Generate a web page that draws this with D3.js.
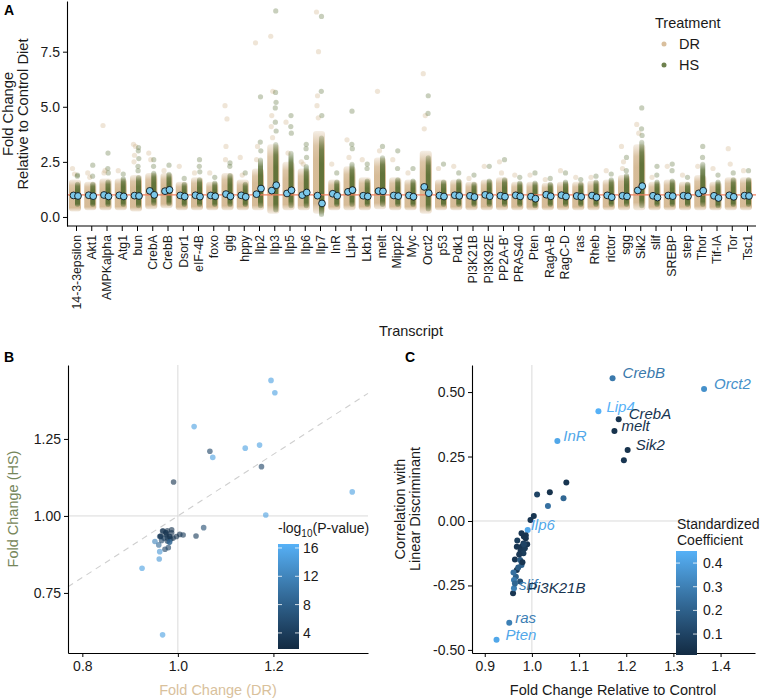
<!DOCTYPE html>
<html><head><meta charset="utf-8">
<script src="https://cdn.jsdelivr.net/npm/d3@7"></script>
<style>
body{margin:0;background:#fff}
text{font-family:"Liberation Sans",Arimo,Arial,Helvetica,sans-serif}
</style>
</head><body>
<svg id="chart" width="762" height="700"></svg>
<script>
// ---------------- DATA ----------------
const transcripts = ["14-3-3epsilon","Akt1","AMPKalpha","Atg1","bun","CrebA","CrebB","Dsor1","eIF-4B","foxo","gig","hppy","Ilp2","Ilp3","Ilp5","Ilp6","Ilp7","InR","Lip4","Lkb1","melt","Mipp2","Myc","Orct2","p53","Pdk1","PI3K21B","PI3K92E","PP2A-B'","PRAS40","Pten","RagA-B","RagC-D","ras","Rheb","rictor","sgg","Sik2","slif","SREBP","step","Thor","Tif-IA","Tor","Tsc1"];

// median fold change per transcript (panel A medians, panel B axes, panel C x)
const drFC = [0.978,0.987,0.997,0.982,0.969,1.184,1.171,0.978,0.985,0.976,1.038,0.982,1.034,1.195,1.067,0.991,0.968,1.054,1.141,0.964,1.175,0.975,0.978,1.365,0.971,0.987,0.960,1.004,0.966,0.983,0.925,1.011,0.990,0.952,0.973,0.980,0.962,1.203,0.962,0.975,0.964,1.073,0.961,0.983,0.968];
const hsFC = [0.952,0.945,0.933,0.933,0.951,1.003,1.230,0.928,0.925,0.938,0.935,0.915,1.290,1.440,1.210,1.110,0.614,0.962,1.220,0.933,1.160,0.945,0.919,1.078,0.928,0.955,0.906,0.940,0.920,0.933,0.830,0.938,0.928,0.917,0.892,0.897,0.933,1.400,0.884,0.945,0.935,1.190,0.860,0.915,0.951];

// dense extent of individual-sample fold changes (panel A)
const drLo = [0.25,0.3,0.3,0.3,0.25,0.35,0.4,0.3,0.3,0.3,0.3,0.3,0.3,0.15,0.3,0.3,0.15,0.3,0.3,0.3,0.35,0.3,0.3,0.15,0.3,0.3,0.3,0.3,0.3,0.3,0.3,0.3,0.3,0.3,0.3,0.3,0.3,0.3,0.3,0.3,0.3,0.3,0.3,0.3,0.3];
const drHi = [1.7,1.6,1.75,1.75,1.9,2.0,2.0,1.6,1.8,1.6,2.0,1.7,2.2,3.3,2.5,2.2,3.9,1.7,2.3,1.8,2.7,1.8,1.7,3.0,1.7,1.7,1.6,1.7,1.8,1.6,1.6,1.55,1.6,1.6,1.65,1.7,1.9,3.3,1.6,1.7,1.6,1.9,1.6,1.8,1.8];
const hsLo = [0.45,0.45,0.45,0.45,0.4,0.5,0.5,0.45,0.45,0.45,0.45,0.45,0.4,0.2,0.4,0.4,0.0,0.45,0.45,0.45,0.45,0.45,0.45,0.25,0.45,0.45,0.45,0.45,0.45,0.45,0.4,0.45,0.45,0.45,0.45,0.45,0.45,0.4,0.45,0.45,0.45,0.45,0.4,0.45,0.45];
const hsHi = [1.6,1.6,1.7,1.85,1.9,2.1,2.05,1.6,1.8,1.65,2.0,1.6,2.7,3.4,3.0,2.4,3.7,1.7,2.5,1.75,2.8,1.8,1.75,2.8,1.7,1.75,1.6,1.75,1.8,1.65,1.65,1.6,1.7,1.6,1.7,1.8,2.0,3.5,1.7,1.75,1.6,2.5,1.7,1.8,1.8];
const drOut = [[2.2,1.95],[2.0,1.8],[4.15,2.1,2.0],[2.1],[3.3,3.2,2.8,2.5],[2.9,2.6],[2.1],[2.3],[2.0],[2.0],[5.05,4.45,3.2,2.6],[2.7,1.9],[7.9,3.2,2.6],[8.2,5.7,4.6,4.1,3.6],[4.3,2.9],[2.5,2.4],[9.3,7.5,5.5,5.05,4.5],[2.4],[3.5,2.7],[2.6],[5.7,3.0],[2.6],[2.0],[6.5,4.6,4.0],[2.2],[2.3],[1.75],[2.3],[2.5,2.0],[1.9],[1.9],[1.7],[2.1],[1.8],[1.8],[2.1],[3.2,2.5,2.2],[4.2,3.8],[1.8],[2.3],[1.9],[2.3],[2.2],[3.1,2.4],[2.1]];
const hsOut = [[1.9,1.85],[2.35,1.85],[2.9,2.2,2.0],[1.95],[3.15,3.0,2.65,2.3,2.1],[2.6,2.3],[2.35],[1.75],[2.6,2.3,2.05],[1.8],[2.45,2.3],[2.0],[5.45,3.4,3.0],[9.35,5.65,5.2,4.95,4.3,3.9],[4.6,4.1,3.8],[3.3,3.1,2.7],[9.1,5.7,4.6],[2.0],[4.8,3.3,3.1],[2.4,2.2],[3.2],[3.0,2.2],[2.2],[5.5,4.7],[2.4],[2.0],[1.9],[2.3],[2.6],[1.8],[2.0],[1.75],[2.0],[1.7],[1.85],[1.95],[2.7,2.1],[4.95,4.0,3.7],[2.3,1.9],[2.4,2.1],[1.8],[3.2,2.7],[1.9],[2.0],[2.1]];

// panel B colour: -log10(P-value)
const negLog10P = [3,3,3,4,4,15,15,3,4,3,4,8,15,15,5,3,15,6,15,5,5,3,4,15,4,3,9,3,5,3,15,4,3,12,5,5,5,15,14,3,3,15,14,9,3];
// panel C: correlation with linear discriminant and standardized coefficient
const ldaCorr = [-0.048,-0.067,0.004,-0.087,-0.076,0.395,0.554,-0.100,-0.106,-0.116,0.111,-0.125,0.058,0.236,0.088,-0.035,-0.190,0.310,0.426,-0.149,0.349,-0.151,-0.171,0.512,-0.180,-0.055,-0.280,0.019,-0.216,-0.060,-0.461,0.103,-0.090,-0.395,-0.130,-0.160,-0.229,0.275,-0.261,-0.235,-0.242,0.149,-0.200,-0.090,-0.100];
const stdCoef = [0.05,0.04,0.05,0.06,0.08,0.05,0.28,0.05,0.07,0.06,0.04,0.08,0.25,0.05,0.22,0.42,0.05,0.42,0.45,0.05,0.04,0.18,0.20,0.35,0.19,0.05,0.05,0.05,0.20,0.04,0.42,0.10,0.05,0.30,0.06,0.05,0.28,0.04,0.30,0.15,0.22,0.05,0.25,0.10,0.05];

const labelledC = ["CrebB","Orct2","Lip4","CrebA","melt","InR","Sik2","Ilp6","slif","PI3K21B","ras","Pten"];
const labelTextC = {"PI3K21B":"Pi3K21B"};

const yTicksA = [0, 2.5, 5, 7.5];
const xTicksB = [0.8, 1.0, 1.2], yTicksB = [0.75, 1.00, 1.25];
const xTicksC = [0.9, 1.0, 1.1, 1.2, 1.3, 1.4], yTicksC = [-0.5, -0.25, 0, 0.25, 0.5];
const pTicks = [4, 8, 12, 16], coefTicks = [0.1, 0.2, 0.3, 0.4];

// ---------------- STYLE ----------------
const TAN = "#D2B48C", OLIVE = "#556B2F", MED = "#7CC8EA", REFLINE = "#F08060";
const GRID = "#DADADA", INK = "#1a1a1a";
const labelOffsets = {CrebB:[10,-6],Orct2:[10,-5],Lip4:[8,-5],CrebA:[10,-6],melt:[7,-5],InR:[6,-5],Sik2:[8,-5],Ilp6:[3,-5],slif:[5,-4],PI3K21B:[14,-6],ras:[6,-5],Pten:[9,-5]};
const jit = [-1, 1, 0, -0.5, 0.8, -1.2];

const svg = d3.select("#chart");
const defs = svg.append("defs");

function styleAxis(g, fs) {
  g.attr("font-family", null).attr("font-size", null);
  g.selectAll("text").attr("font-size", fs).attr("fill", INK);
  g.selectAll(".tick line").attr("stroke", "#000");
  g.select(".domain").attr("stroke", "#000").attr("stroke-width", 1.1);
}

function bandGrad(id, color, op) {
  const gr = defs.append("linearGradient").attr("id", id).attr("x1",0).attr("y1",0).attr("x2",0).attr("y2",1);
  [[0,0.22],[0.18,op*0.85],[0.35,op],[0.88,op],[1,0.25]].forEach(([o,a]) =>
    gr.append("stop").attr("offset", o).attr("stop-color", color).attr("stop-opacity", a));
}
bandGrad("gTan", TAN, 0.9);
bandGrad("gOlive", OLIVE, 0.9);

// ---------------- PANEL A ----------------
const xA = d3.scalePoint().domain(transcripts).range([76, 747]);
const yA = d3.scaleLinear().domain([-0.41, 9.8]).range([226, 1]);
const gA = svg.append("g");

gA.append("g").selectAll("rect").data(transcripts).join("rect")
  .attr("x", d => xA(d) - 7).attr("width", 12)
  .attr("y", (d,i) => yA(drHi[i])).attr("height", (d,i) => yA(drLo[i]) - yA(drHi[i]))
  .attr("rx", 3).attr("fill", "url(#gTan)");
transcripts.forEach((t,i) => {
  gA.selectAll(null).data(drOut[i]).join("circle")
    .attr("cx", (v,j) => xA(t) - 2.5 + jit[j % jit.length]).attr("cy", v => yA(v))
    .attr("r", 2.6).attr("fill", TAN).attr("opacity", 0.35);
});
gA.append("g").selectAll("rect").data(transcripts).join("rect")
  .attr("x", d => xA(d) - 1).attr("width", 5)
  .attr("y", (d,i) => yA(hsHi[i])).attr("height", (d,i) => yA(hsLo[i]) - yA(hsHi[i]))
  .attr("rx", 2.5).attr("fill", "url(#gOlive)");
transcripts.forEach((t,i) => {
  gA.selectAll(null).data(hsOut[i]).join("circle")
    .attr("cx", (v,j) => xA(t) + 1.5 + jit[(j+2) % jit.length] * 0.4).attr("cy", v => yA(v))
    .attr("r", 2.6).attr("fill", OLIVE).attr("opacity", 0.32);
});
gA.append("line").attr("x1", 67).attr("x2", 756).attr("y1", yA(1)).attr("y2", yA(1))
  .attr("stroke", REFLINE).attr("stroke-width", 1.2);
gA.append("g").selectAll("circle").data(transcripts).join("circle")
  .attr("cx", d => xA(d) - 2.5).attr("cy", (d,i) => yA(drFC[i])).attr("r", 3.4)
  .attr("fill", MED).attr("stroke", "#000").attr("stroke-width", 0.8);
gA.append("g").selectAll("circle").data(transcripts).join("circle")
  .attr("cx", d => xA(d) + 2).attr("cy", (d,i) => yA(hsFC[i])).attr("r", 3.4)
  .attr("fill", MED).attr("stroke", "#000").attr("stroke-width", 0.8);

const axAy = gA.append("g").attr("transform", "translate(67,0)")
  .call(d3.axisLeft(yA).tickValues(yTicksA).tickFormat(d3.format(".1f")).tickSize(4).tickSizeOuter(0).tickPadding(3));
styleAxis(axAy, 14);
const axAx = gA.append("g").attr("transform", "translate(0,226)")
  .call(d3.axisBottom(d3.scalePoint().domain(transcripts).range([76,747])).tickSize(5).tickSizeOuter(0));
axAx.select(".domain").remove();
axAx.append("line").attr("x1", 67).attr("x2", 756).attr("stroke", "#000").attr("stroke-width", 1.1);
styleAxis(axAx, 12.3);
axAx.selectAll(".tick text").attr("transform", "rotate(-90)").attr("x", -9).attr("y", 0)
  .attr("dy", "0.35em").attr("text-anchor", "end");

gA.append("text").attr("transform", "translate(13,114) rotate(-90)").attr("text-anchor","middle")
  .attr("font-size", 14.7).attr("fill", INK).text("Fold Change");
gA.append("text").attr("transform", "translate(28,114) rotate(-90)").attr("text-anchor","middle")
  .attr("font-size", 14.7).attr("fill", INK).text("Relative to Control Diet");
gA.append("text").attr("x", 411).attr("y", 336).attr("text-anchor","middle")
  .attr("font-size", 14.5).attr("fill", INK).text("Transcript");
// legend
gA.append("text").attr("x", 655).attr("y", 28).attr("font-size", 14.5).attr("fill", INK).text("Treatment");
[["DR", TAN, 44], ["HS", OLIVE, 65]].forEach(([lab, col, y]) => {
  gA.append("circle").attr("cx", 664).attr("cy", y).attr("r", 2.5).attr("fill", col).attr("opacity", 0.85);
  gA.append("text").attr("x", 679).attr("y", y).attr("dy", "0.36em").attr("font-size", 14.5).attr("fill", INK).text(lab);
});
svg.append("text").attr("x", 4).attr("y", 15).attr("font-size", 14).attr("font-weight", "bold").text("A");

// ---------------- PANEL B ----------------
const xB = d3.scaleLinear().domain([0.770, 1.398]).range([68, 368]);
const yB = d3.scaleLinear().domain([0.555, 1.49]).range([653, 365]);
const colP = d3.scaleSequential(d3.interpolateLab("#132B43", "#56B1F7")).domain([1.73, 16.56]);
const gB = svg.append("g");
gB.append("line").attr("x1", xB(1)).attr("x2", xB(1)).attr("y1", 365).attr("y2", 653).attr("stroke", GRID);
gB.append("line").attr("x1", 68).attr("x2", 368).attr("y1", yB(1)).attr("y2", yB(1)).attr("stroke", GRID);
gB.append("line").attr("x1", xB(0.770)).attr("y1", yB(0.770)).attr("x2", xB(1.398)).attr("y2", yB(1.398))
  .attr("stroke", "#CFCFCF").attr("stroke-dasharray", "6,5").attr("stroke-width", 1.1);
gB.append("g").selectAll("circle").data(transcripts).join("circle")
  .attr("cx", (d,i) => xB(drFC[i])).attr("cy", (d,i) => yB(hsFC[i])).attr("r", 2.8)
  .attr("fill", (d,i) => colP(negLog10P[i])).attr("opacity", 0.62);
const axBx = gB.append("g").attr("transform", "translate(0,653)")
  .call(d3.axisBottom(xB).tickValues(xTicksB).tickFormat(d => d.toFixed(1)).tickSize(4).tickSizeOuter(0).tickPadding(4));
styleAxis(axBx, 14);
const axBy = gB.append("g").attr("transform", "translate(68,0)")
  .call(d3.axisLeft(yB).tickValues(yTicksB).tickFormat(d => d.toFixed(2)).tickSize(4).tickSizeOuter(0).tickPadding(3));
styleAxis(axBy, 14);
gB.append("text").attr("x", 218).attr("y", 695).attr("text-anchor","middle").attr("font-size", 14.5)
  .attr("fill", "#D9C19C").text("Fold Change (DR)");
gB.append("text").attr("transform", "translate(18,509) rotate(-90)").attr("text-anchor","middle")
  .attr("font-size", 14.5).attr("fill", "#76865A").text("Fold Change (HS)");
svg.append("text").attr("x", 4).attr("y", 362).attr("font-size", 14).attr("font-weight", "bold").text("B");

function colorbar(g, id, scale, ticks, fmt, x, y0, y1, labX) {
  const dom = scale.domain();
  const gr = defs.append("linearGradient").attr("id", id).attr("x1",0).attr("y1",1).attr("x2",0).attr("y2",0);
  d3.range(0, 1.0001, 0.1).forEach(o => gr.append("stop").attr("offset", o)
    .attr("stop-color", scale(dom[0] + o * (dom[1] - dom[0]))));
  g.append("rect").attr("x", x).attr("y", y0).attr("width", 21).attr("height", y1 - y0).attr("fill", `url(#${id})`);
  const ys = d3.scaleLinear().domain(dom).range([y1, y0]);
  ticks.forEach(t => {
    g.append("line").attr("x1", x).attr("x2", x + 4).attr("y1", ys(t)).attr("y2", ys(t)).attr("stroke", "#fff").attr("stroke-opacity", 0.8);
    g.append("line").attr("x1", x + 17).attr("x2", x + 21).attr("y1", ys(t)).attr("y2", ys(t)).attr("stroke", "#fff").attr("stroke-opacity", 0.8);
    g.append("text").attr("x", labX).attr("y", ys(t)).attr("dy", "0.36em").attr("font-size", 14).attr("fill", INK).text(fmt(t));
  });
}
colorbar(gB, "cbP", colP, pTicks, d => String(d), 278, 544, 649, 303);
const tB = gB.append("text").attr("x", 278).attr("y", 533).attr("font-size", 14).attr("fill", INK);
tB.append("tspan").text("-log");
tB.append("tspan").attr("font-size", 10).attr("dy", 4).text("10");
tB.append("tspan").attr("dy", -4).text("(P-value)");

// ---------------- PANEL C ----------------
const xC = d3.scaleLinear().domain([0.873, 1.473]).range([472, 755]);
const yC = d3.scaleLinear().domain([-0.512, 0.605]).range([653, 365]);
const colC = d3.scaleSequential(d3.interpolateLab("#132B43", "#56B1F7")).domain([0.0115, 0.451]);
const gC = svg.append("g");
gC.append("line").attr("x1", xC(1)).attr("x2", xC(1)).attr("y1", 365).attr("y2", 653).attr("stroke", GRID);
gC.append("line").attr("x1", 472).attr("x2", 755).attr("y1", yC(0)).attr("y2", yC(0)).attr("stroke", GRID);
gC.append("g").selectAll("circle").data(transcripts).join("circle")
  .attr("cx", (d,i) => xC(drFC[i])).attr("cy", (d,i) => yC(ldaCorr[i])).attr("r", 3)
  .attr("fill", (d,i) => colC(stdCoef[i]));
labelledC.forEach(name => {
  const i = transcripts.indexOf(name);
  const [dx, dy] = labelOffsets[name];
  gC.append("text").attr("x", xC(drFC[i]) + dx).attr("y", yC(ldaCorr[i]) + dy).attr("dy", "0.36em")
    .attr("font-size", 15).attr("font-style", "italic").attr("fill", colC(stdCoef[i]))
    .text(labelTextC[name] || name);
});
const axCx = gC.append("g").attr("transform", "translate(0,653)")
  .call(d3.axisBottom(xC).tickValues(xTicksC).tickFormat(d => d.toFixed(1)).tickSize(4).tickSizeOuter(0).tickPadding(4));
styleAxis(axCx, 14);
const axCy = gC.append("g").attr("transform", "translate(472,0)")
  .call(d3.axisLeft(yC).tickValues(yTicksC).tickFormat(d => d.toFixed(2)).tickSize(4).tickSizeOuter(0).tickPadding(3));
styleAxis(axCy, 14);
gC.append("text").attr("x", 613).attr("y", 695).attr("text-anchor","middle").attr("font-size", 14.5)
  .attr("fill", INK).text("Fold Change Relative to Control");
gC.append("text").attr("transform", "translate(405,509) rotate(-90)").attr("text-anchor","middle")
  .attr("font-size", 14.5).attr("fill", INK).text("Correlation with");
gC.append("text").attr("transform", "translate(420,509) rotate(-90)").attr("text-anchor","middle")
  .attr("font-size", 14.5).attr("fill", INK).text("Linear Discriminant");
svg.append("text").attr("x", 405).attr("y", 362).attr("font-size", 14).attr("font-weight", "bold").text("C");
colorbar(gC, "cbC", colC, coefTicks, d => d.toFixed(1), 676, 551, 655, 703);
gC.append("text").attr("x", 677).attr("y", 529).attr("font-size", 14).attr("fill", INK).text("Standardized");
gC.append("text").attr("x", 677).attr("y", 545).attr("font-size", 14).attr("fill", INK).text("Coefficient");
</script>
</body></html>
